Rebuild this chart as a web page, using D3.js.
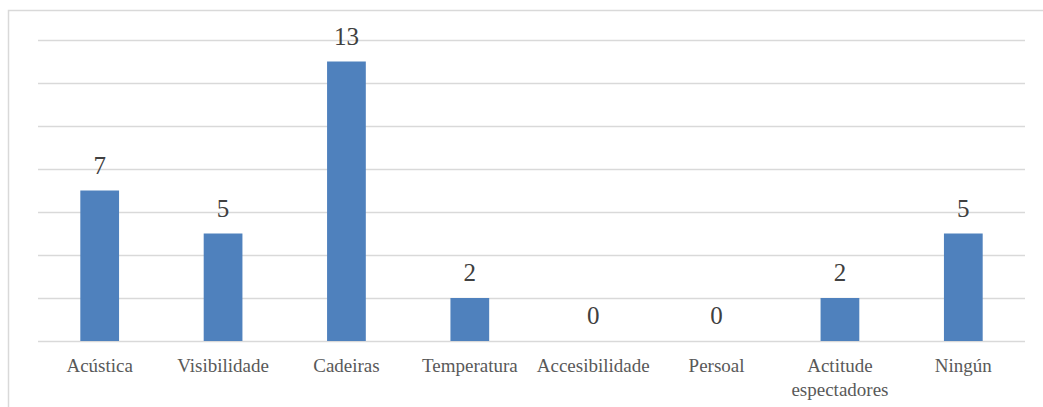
<!DOCTYPE html>
<html>
<head>
<meta charset="utf-8">
<script src="https://cdn.jsdelivr.net/npm/d3@7"></script>
<style>
  body { margin: 0; background: #fff; }
</style>
</head>
<body>
<div id="chart"></div>
<script>
// data
var categories = ["Acústica", "Visibilidade", "Cadeiras", "Temperatura", "Accesibilidade", "Persoal", "Actitude espectadores", "Ningún"];
var values = [7, 5, 13, 2, 0, 0, 2, 5];
var yTicks = [0, 2, 4, 6, 8, 10, 12, 14];

var data = categories.map(function(c, i) { return {name: c, value: values[i]}; });

// dimensions
var W = 1043, H = 407;
var margin = {top: 40, right: 18, bottom: 66, left: 38},
    width = W - margin.left - margin.right,
    height = H - margin.top - margin.bottom;

var root = d3.select("#chart")
  .append("svg")
    .attr("width", W)
    .attr("height", H);

// chart area frame
root.append("rect")
    .attr("x", 8.5)
    .attr("y", 10.5)
    .attr("width", W + 10)
    .attr("height", H + 10)
    .attr("fill", "none")
    .attr("stroke", "#d9d9d9")
    .attr("stroke-width", 1.5);

var svg = root.append("g")
    .attr("transform", "translate(" + margin.left + "," + margin.top + ")");

var x = d3.scaleBand()
  .range([0, width])
  .domain(categories)
  .paddingInner(0.686)
  .paddingOuter(0.343);

var y = d3.scaleLinear()
  .range([height, 0])
  .domain([0, 14]);

// gridlines
svg.append("g")
  .call(d3.axisLeft(y).tickValues(yTicks).tickSize(-width).tickFormat(""))
  .call(function(g) { g.select(".domain").remove(); })
  .selectAll("line")
    .attr("stroke", "#d9d9d9")
    .attr("stroke-width", 1.5);

// bars
svg.selectAll("rect.bar")
  .data(data)
  .enter()
  .append("rect")
    .attr("class", "bar")
    .attr("x", function(d) { return x(d.name); })
    .attr("y", function(d) { return y(d.value); })
    .attr("width", x.bandwidth())
    .attr("height", function(d) { return height - y(d.value); })
    .attr("fill", "#4f81bd");

// value labels
svg.selectAll("text.val")
  .data(data)
  .enter()
  .append("text")
    .attr("class", "val")
    .attr("x", function(d) { return x(d.name) + x.bandwidth() / 2; })
    .attr("y", function(d) { return y(d.value) - 17; })
    .attr("text-anchor", "middle")
    .attr("font-family", "Liberation Serif, serif")
    .attr("font-size", 25)
    .attr("fill", "#404040")
    .text(function(d) { return d.value; });

// category axis
var xAxis = svg.append("g")
  .attr("transform", "translate(0," + height + ")")
  .call(d3.axisBottom(x).tickSize(0).tickFormat(""));
xAxis.select(".domain").remove();

var labels = xAxis.selectAll(".tick")
  .append("text")
    .attr("text-anchor", "middle")
    .attr("font-family", "Liberation Serif, serif")
    .attr("font-size", 19)
    .attr("fill", "#595959");

// wrap long labels onto two lines
var wrapAt = {"Actitude espectadores": ["Actitude", "espectadores"]};
labels.each(function(d) {
  var lines = wrapAt[d] || [d];
  var t = d3.select(this);
  lines.forEach(function(l, i) {
    t.append("tspan")
      .attr("x", 0)
      .attr("y", 31 + i * 24)
      .text(l);
  });
});
</script>
</body>
</html>
